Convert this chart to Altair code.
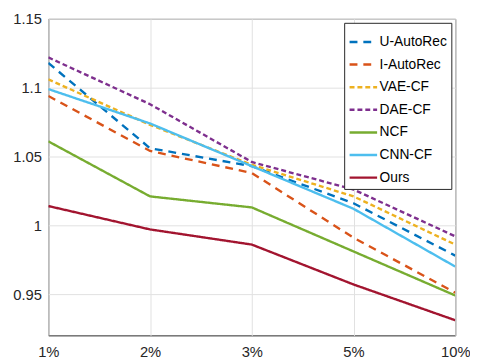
import altair as alt
import pandas as pd

x_labels = ["1%", "2%", "3%", "5%", "10%"]
series = ["U-AutoRec", "I-AutoRec", "VAE-CF", "DAE-CF", "NCF", "CNN-CF", "Ours"]
u_autorec = [1.118, 1.056, 1.043, 1.016, 0.978]
i_autorec = [1.094, 1.054, 1.038, 0.991, 0.951]
vae_cf = [1.106, 1.073, 1.044, 1.021, 0.986]
dae_cf = [1.122, 1.088, 1.046, 1.026, 0.992]
ncf = [1.061, 1.021, 1.013, 0.981, 0.949]
cnn_cf = [1.099, 1.074, 1.043, 1.012, 0.970]
ours = [1.014, 0.997, 0.986, 0.957, 0.931]

values = [u_autorec, i_autorec, vae_cf, dae_cf, ncf, cnn_cf, ours]
colors = ["#0072BD", "#D95319", "#EDB120", "#7E2F8E", "#77AC30", "#4DBEEE", "#A2142F"]
dashes = [[8, 6], [8, 6], [5, 3], [5, 3], [1, 0], [1, 0], [1, 0]]

rows = []
for s, vals in zip(series, values):
    for xl, v in zip(x_labels, vals):
        rows.append({"x": xl, "value": v, "series": s})
df = pd.DataFrame(rows)

font = "Liberation Sans"

legend_opts = dict(title=None, orient="top-right", offset=4,
                   symbolType="stroke", symbolSize=784,
                   symbolStrokeWidth=2.5, labelFontSize=14,
                   labelFont=font, labelColor="#000000",
                   strokeColor="#262626", fillColor="white",
                   padding=4, rowPadding=-4.6, labelOffset=1)

chart = alt.Chart(df).mark_line(strokeWidth=2.4, clip=True).encode(
    x=alt.X("x:N", sort=x_labels, scale=alt.Scale(type="point", padding=0),
            axis=alt.Axis(title=None, labelAngle=0, labelFontSize=15, labelPadding=9,
                          tickSize=0, grid=True, gridColor="#e0e0e0", domain=False,
                          labelColor="#262626", labelFont=font)),
    y=alt.Y("value:Q", scale=alt.Scale(domain=[0.92, 1.15], nice=False, zero=False),
            axis=alt.Axis(title=None, values=[0.95, 1.0, 1.05, 1.1, 1.15],
                          labelExpr="datum.value == 1 ? '1' : format(datum.value, '.3~f')",
                          labelFontSize=15, labelPadding=7, tickSize=0, grid=True,
                          gridColor="#e0e0e0", domain=False, labelColor="#262626",
                          labelFont=font)),
    color=alt.Color("series:N", sort=series,
                    scale=alt.Scale(domain=series, range=colors),
                    legend=alt.Legend(**legend_opts)),
    strokeDash=alt.StrokeDash("series:N", sort=series,
                              scale=alt.Scale(domain=series, range=dashes),
                              legend=alt.Legend(**legend_opts)),
).properties(
    width=414, height=322,
    autosize=alt.AutoSizeParams(type="none"),
    padding={"left": 41, "top": 8, "right": 15, "bottom": 24},
    background="white",
).configure_view(stroke="#262626", strokeWidth=1)

chart.save("out.html", embed_options={"renderer": "svg", "actions": False})
